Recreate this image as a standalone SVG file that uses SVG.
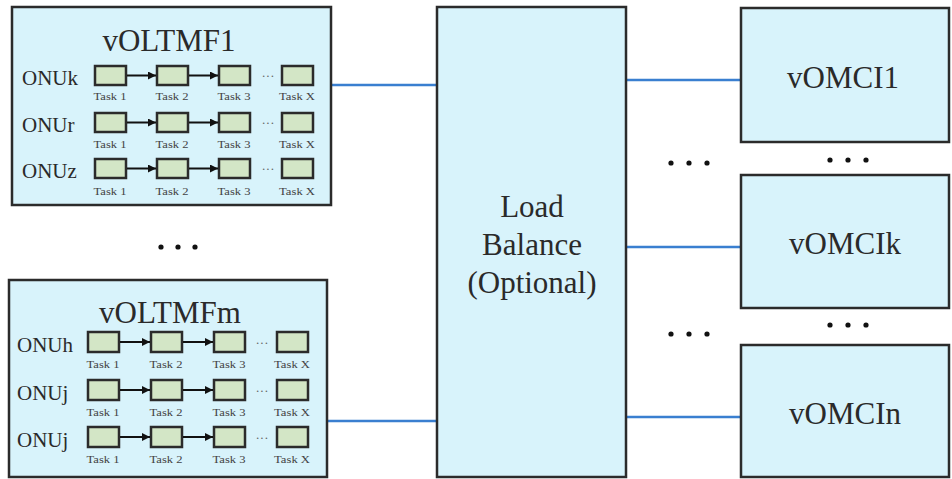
<svg xmlns="http://www.w3.org/2000/svg" width="952" height="479" viewBox="0 0 952 479">
<style>
.box{fill:#d8f3fb;stroke:#2b2b2b;stroke-width:2.5}
.task{fill:#d3e6c6;stroke:#2b2b2b;stroke-width:2.5}
.conn{stroke:#3a7fd0;stroke-width:2.5;fill:none}
.arr{stroke:#111;stroke-width:2;fill:none}
text{font-family:"Liberation Serif","Times New Roman",serif;fill:#2a2a2a}
.big{font-size:31px;text-anchor:middle}
.onu{font-size:21px}
.tl{font-size:10.5px;text-anchor:middle;fill:#444}
.ell{font-size:13px;fill:#666;text-anchor:middle}
.dot{fill:#111}
</style>
<defs>
<marker id="ah" viewBox="0 0 10 10" refX="10" refY="5" markerWidth="9" markerHeight="8" markerUnits="userSpaceOnUse" orient="auto"><path d="M0,0 L10,5 L0,10 z" fill="#111"/></marker>
</defs>

<g id="connectors">
<line class="conn" x1="331" y1="85" x2="437" y2="85"/>
<line class="conn" x1="327" y1="421" x2="437" y2="421"/>
<line class="conn" x1="626" y1="80" x2="741" y2="80"/>
<line class="conn" x1="626" y1="247" x2="741" y2="247"/>
<line class="conn" x1="626" y1="417" x2="741" y2="417"/>
</g>

<g id="vOLTMF1">
<rect class="box" x="12" y="7" width="319" height="198"/>
<text class="big" x="169" y="51">vOLTMF1</text>
<text class="onu" x="22" y="85">ONUk</text>
<text class="onu" x="22" y="132">ONUr</text>
<text class="onu" x="22" y="178">ONUz</text>
<g>
<rect class="task" x="95" y="66" width="31" height="19"/>
<rect class="task" x="157" y="66" width="31" height="19"/>
<rect class="task" x="219" y="66" width="31" height="19"/>
<rect class="task" x="282" y="66" width="31" height="19"/>
<line class="arr" x1="127" y1="75.5" x2="156" y2="75.5" marker-end="url(#ah)"/>
<line class="arr" x1="189" y1="75.5" x2="218" y2="75.5" marker-end="url(#ah)"/>
<text class="ell" x="268" y="80">···</text>
<text class="tl" x="110" y="100" textLength="33" lengthAdjust="spacingAndGlyphs">Task 1</text>
<text class="tl" x="172" y="100" textLength="33" lengthAdjust="spacingAndGlyphs">Task 2</text>
<text class="tl" x="234" y="100" textLength="33" lengthAdjust="spacingAndGlyphs">Task 3</text>
<text class="tl" x="297" y="100" textLength="36" lengthAdjust="spacingAndGlyphs">Task X</text>
</g>
<g>
<rect class="task" x="95" y="113" width="31" height="19"/>
<rect class="task" x="157" y="113" width="31" height="19"/>
<rect class="task" x="219" y="113" width="31" height="19"/>
<rect class="task" x="282" y="113" width="31" height="19"/>
<line class="arr" x1="127" y1="122.5" x2="156" y2="122.5" marker-end="url(#ah)"/>
<line class="arr" x1="189" y1="122.5" x2="218" y2="122.5" marker-end="url(#ah)"/>
<text class="ell" x="268" y="127">···</text>
<text class="tl" x="110" y="148" textLength="33" lengthAdjust="spacingAndGlyphs">Task 1</text>
<text class="tl" x="172" y="148" textLength="33" lengthAdjust="spacingAndGlyphs">Task 2</text>
<text class="tl" x="234" y="148" textLength="33" lengthAdjust="spacingAndGlyphs">Task 3</text>
<text class="tl" x="297" y="148" textLength="36" lengthAdjust="spacingAndGlyphs">Task X</text>
</g>
<g>
<rect class="task" x="95" y="159" width="31" height="19"/>
<rect class="task" x="157" y="159" width="31" height="19"/>
<rect class="task" x="219" y="159" width="31" height="19"/>
<rect class="task" x="282" y="159" width="31" height="19"/>
<line class="arr" x1="127" y1="168.5" x2="156" y2="168.5" marker-end="url(#ah)"/>
<line class="arr" x1="189" y1="168.5" x2="218" y2="168.5" marker-end="url(#ah)"/>
<text class="ell" x="268" y="173">···</text>
<text class="tl" x="110" y="195" textLength="33" lengthAdjust="spacingAndGlyphs">Task 1</text>
<text class="tl" x="172" y="195" textLength="33" lengthAdjust="spacingAndGlyphs">Task 2</text>
<text class="tl" x="234" y="195" textLength="33" lengthAdjust="spacingAndGlyphs">Task 3</text>
<text class="tl" x="297" y="195" textLength="36" lengthAdjust="spacingAndGlyphs">Task X</text>
</g>
</g>

<g id="dots-left">
<circle class="dot" cx="161" cy="247" r="2.6"/>
<circle class="dot" cx="178" cy="247" r="2.6"/>
<circle class="dot" cx="195" cy="247" r="2.6"/>
</g>

<g id="vOLTMFm">
<rect class="box" x="9" y="280" width="318" height="197"/>
<text class="big" x="170" y="323">vOLTMFm</text>
<text class="onu" x="17" y="352">ONUh</text>
<text class="onu" x="17" y="400">ONUj</text>
<text class="onu" x="17" y="447">ONUj</text>
<g>
<rect class="task" x="88" y="332" width="31" height="20"/>
<rect class="task" x="151" y="332" width="31" height="20"/>
<rect class="task" x="214" y="332" width="31" height="20"/>
<rect class="task" x="277" y="332" width="31" height="20"/>
<line class="arr" x1="120" y1="342" x2="150" y2="342" marker-end="url(#ah)"/>
<line class="arr" x1="183" y1="342" x2="213" y2="342" marker-end="url(#ah)"/>
<text class="ell" x="262" y="347">···</text>
<text class="tl" x="103" y="368" textLength="33" lengthAdjust="spacingAndGlyphs">Task 1</text>
<text class="tl" x="166" y="368" textLength="33" lengthAdjust="spacingAndGlyphs">Task 2</text>
<text class="tl" x="229" y="368" textLength="33" lengthAdjust="spacingAndGlyphs">Task 3</text>
<text class="tl" x="292" y="368" textLength="36" lengthAdjust="spacingAndGlyphs">Task X</text>
</g>
<g>
<rect class="task" x="88" y="380" width="31" height="20"/>
<rect class="task" x="151" y="380" width="31" height="20"/>
<rect class="task" x="214" y="380" width="31" height="20"/>
<rect class="task" x="277" y="380" width="31" height="20"/>
<line class="arr" x1="120" y1="390" x2="150" y2="390" marker-end="url(#ah)"/>
<line class="arr" x1="183" y1="390" x2="213" y2="390" marker-end="url(#ah)"/>
<text class="ell" x="262" y="395">···</text>
<text class="tl" x="103" y="416" textLength="33" lengthAdjust="spacingAndGlyphs">Task 1</text>
<text class="tl" x="166" y="416" textLength="33" lengthAdjust="spacingAndGlyphs">Task 2</text>
<text class="tl" x="229" y="416" textLength="33" lengthAdjust="spacingAndGlyphs">Task 3</text>
<text class="tl" x="292" y="416" textLength="36" lengthAdjust="spacingAndGlyphs">Task X</text>
</g>
<g>
<rect class="task" x="88" y="427" width="31" height="20"/>
<rect class="task" x="151" y="427" width="31" height="20"/>
<rect class="task" x="214" y="427" width="31" height="20"/>
<rect class="task" x="277" y="427" width="31" height="20"/>
<line class="arr" x1="120" y1="437" x2="150" y2="437" marker-end="url(#ah)"/>
<line class="arr" x1="183" y1="437" x2="213" y2="437" marker-end="url(#ah)"/>
<text class="ell" x="262" y="442">···</text>
<text class="tl" x="103" y="463" textLength="33" lengthAdjust="spacingAndGlyphs">Task 1</text>
<text class="tl" x="166" y="463" textLength="33" lengthAdjust="spacingAndGlyphs">Task 2</text>
<text class="tl" x="229" y="463" textLength="33" lengthAdjust="spacingAndGlyphs">Task 3</text>
<text class="tl" x="292" y="463" textLength="36" lengthAdjust="spacingAndGlyphs">Task X</text>
</g>
</g>

<g id="load-balance">
<rect class="box" x="437" y="7" width="189" height="470"/>
<text class="big" x="532" y="217">Load</text>
<text class="big" x="532" y="255">Balance</text>
<text class="big" x="532" y="293">(Optional)</text>
</g>

<g id="dots-mid">
<circle class="dot" cx="671" cy="163" r="2.6"/>
<circle class="dot" cx="689" cy="163" r="2.6"/>
<circle class="dot" cx="707" cy="163" r="2.6"/>
<circle class="dot" cx="671" cy="334" r="2.6"/>
<circle class="dot" cx="689" cy="334" r="2.6"/>
<circle class="dot" cx="707" cy="334" r="2.6"/>
</g>

<g id="vOMCI1">
<rect class="box" x="741" y="8" width="208" height="134"/>
<text class="big" x="843" y="88">vOMCI1</text>
</g>
<g id="dots-r1">
<circle class="dot" cx="830" cy="160" r="2.6"/>
<circle class="dot" cx="848" cy="160" r="2.6"/>
<circle class="dot" cx="866" cy="160" r="2.6"/>
</g>
<g id="vOMCIk">
<rect class="box" x="741" y="175" width="208" height="133"/>
<text class="big" x="845" y="254">vOMCIk</text>
</g>
<g id="dots-r2">
<circle class="dot" cx="830" cy="325" r="2.6"/>
<circle class="dot" cx="848" cy="325" r="2.6"/>
<circle class="dot" cx="866" cy="325" r="2.6"/>
</g>
<g id="vOMCIn">
<rect class="box" x="741" y="345" width="208" height="132"/>
<text class="big" x="845" y="424">vOMCIn</text>
</g>
</svg>
